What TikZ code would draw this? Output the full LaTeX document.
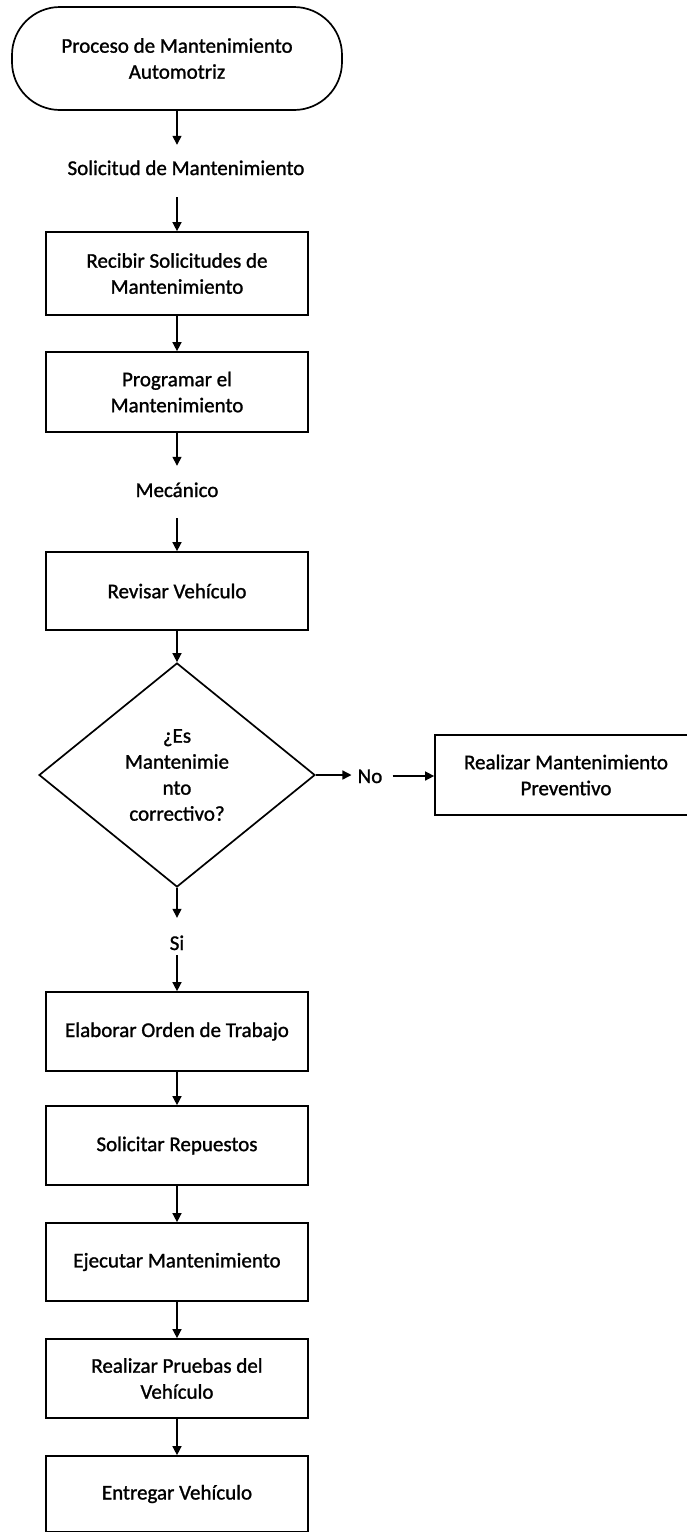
\documentclass[tikz,border=0pt]{standalone}
\usepackage{fontspec}
\setmainfont{Carlito}[RawFeature={embolden=1.2}]
\usetikzlibrary{shapes.geometric,arrows.meta}
\begin{document}
\begin{tikzpicture}[x=1pt,y=-1pt,
  txt/.style={font=\fontsize{21pt}{26pt}\selectfont},
  term/.style={txt, draw, line width=1.7pt, rounded corners=48pt, minimum width=330pt, minimum height=103pt, inner sep=0pt, align=center},
  box/.style={txt, draw, line width=1.7pt, rectangle, minimum width=262pt, minimum height=#1, inner sep=0pt, align=center},
  box/.default=79pt,
  dec/.style={txt, draw, line width=1.7pt, diamond, aspect=1.23, minimum width=276pt, minimum height=224pt, inner sep=0pt, align=center},
  lbl/.style={txt, inner sep=0pt, text height=14pt, text depth=0pt},
  arr/.style={-{Triangle[length=9pt,width=9pt]}, line width=1.4pt}
]
\useasboundingbox (0,0) rectangle (687,1532);
\clip (0,0) rectangle (687,1532);

\node[term] (start) at (177,58.5) {Proceso de Mantenimiento\\Automotriz};
\node[lbl] (sol) at (186,168) {Solicitud de Mantenimiento};
\node[box=83pt] (b1) at (177,273.5) {Recibir Solicitudes de\\Mantenimiento};
\node[box=80pt] (b2) at (177,392) {Programar el\\Mantenimiento};
\node[lbl] (mec) at (177,490) {Mecánico};
\node[box=78pt] (b3) at (177,591) {Revisar Vehículo};
\node[dec] (dec) at (177,775) {¿Es\\Mantenimie\\nto\\correctivo?};
\node[lbl] (no) at (370,776) {No};
\node[box=80pt] (pm) at (566,775) {Realizar Mantenimiento\\Preventivo};
\node[lbl] (si) at (177,943) {Si};
\node[box=79pt] (b4) at (177,1031.5) {Elaborar Orden de Trabajo};
\node[box=79pt] (b5) at (177,1145.5) {Solicitar Repuestos};
\node[box=78pt] (b6) at (177,1262) {Ejecutar Mantenimiento};
\node[box=79pt] (b7) at (177,1378.5) {Realizar Pruebas del\\Vehículo};
\node[box=76pt] (b8) at (177,1494) {Entregar Vehículo};

\draw[arr, shorten >=16pt] (start.south) -- (start.south |- sol.north);
\draw[arr, shorten <=22pt] (sol.south -| b1.north) -- (b1.north);
\draw[arr] (b1.south) -- (b2.north);
\draw[arr, shorten >=17pt] (b2.south) -- (mec.north);
\draw[arr, shorten <=21pt] (mec.south) -- (b3.north);
\draw[arr] (b3.south) -- (dec.north);
\draw[arr, shorten >=6pt] (dec.east) -- (dec.east -| no.west);
\draw[arr, shorten <=10pt] (no.east) -- (no.east -| pm.west);
\draw[arr, shorten >=18pt] (dec.south) -- (si.north);
\draw[arr, shorten <=5pt] (si.south) -- (b4.north);
\draw[arr] (b4.south) -- (b5.north);
\draw[arr] (b5.south) -- (b6.north);
\draw[arr] (b6.south) -- (b7.north);
\draw[arr] (b7.south) -- (b8.north);
\end{tikzpicture}
\end{document}
